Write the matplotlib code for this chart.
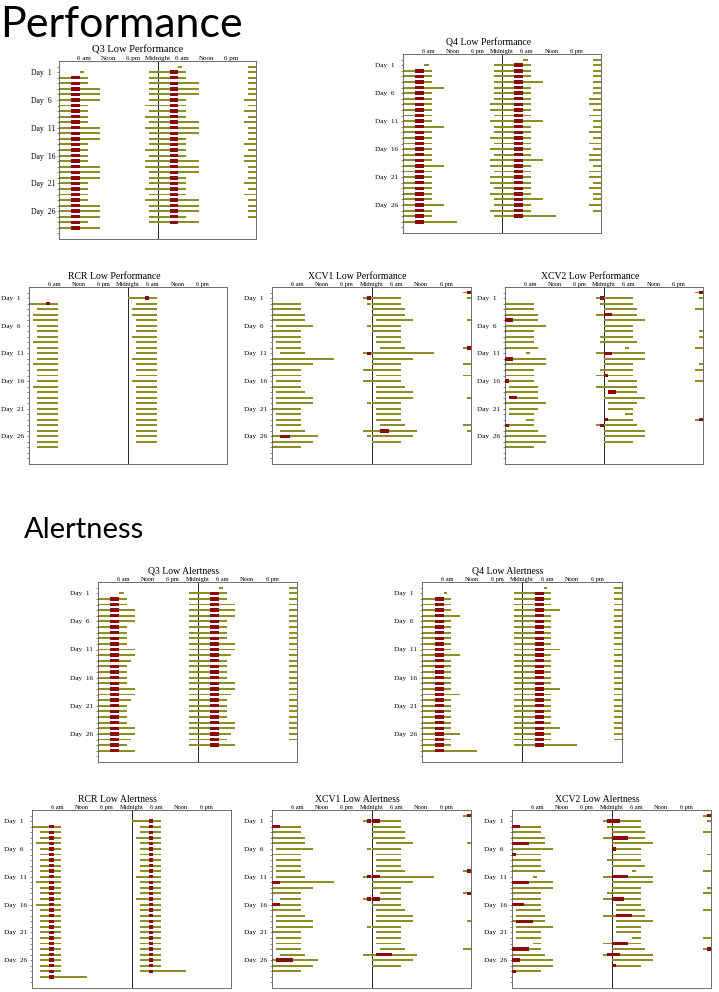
import matplotlib
matplotlib.use('Agg')
import matplotlib.pyplot as plt

OLIVE = '#8e8e26'
MAROON = '#8b0a0a'
W, H = 719, 992

TIME_TICKS = [6, 12, 18, 24, 30, 36, 42]
TIME_LABELS = ['6 am', 'Noon', '6 pm', 'Midnight', '6 am', 'Noon', '6 pm']
DAY_TICKS = [1, 6, 11, 16, 21, 26]
DAY_LABELS = ['Day  1', 'Day  6', 'Day  11', 'Day  16', 'Day  21', 'Day  26']

# sleep onset / wake per day (hours from midnight of the wake day, negative = evening before)
# ---- Q3 performance ----
Q3P_FIRST = 2
Q3P_ON = [-2, -2, -2, -2, -2, -2, -3, -2, -3, -2, -3, -2, -2, -2,
          -3, -2, -3, -3, -2, -2, -2, -3, -2, -3, -2, -2, -2, -2]
Q3P_OFF = [7, 7, 10, 10, 10, 7, 7, 7, 7, 10, 10, 10, 7, 7,
           7, 7, 10, 10, 10, 7, 7, 7, 7, 10, 10, 10, 7, 10]
Q3P_NAP = [(1, 5.0, 6.0)]
Q3P_LOW_DAY = [2, 3, 4, 5, 6, 7, 8, 9, 10, 11, 12, 13, 14, 15,
               16, 17, 18, 19, 20, 21, 22, 23, 24, 25, 26, 27, 28, 29]
Q3P_LOW_ON = [3.0] * 28
Q3P_LOW_OFF = [5.0] * 28

# ---- Q4 performance ----
Q4P_FIRST = 2
Q4P_ON = [-2, -2, -2, -2, -2, -2, -2, -3, -3, -2, -3, -2, -2, -3,
          -2, -3, -2, -3, -3, -2, -3, -3, -2, -3, -2, -2, -3, -2]
Q4P_OFF = [7, 7, 7, 10, 7, 7, 7, 7, 7, 7, 10, 7, 7, 7,
           7, 7, 7, 10, 7, 7, 7, 7, 7, 7, 10, 7, 7, 13]
Q4P_NAP = [(1, 5.2, 6.2)]
Q4P_LOW_DAY = Q3P_LOW_DAY
Q4P_LOW_ON = [3.0] * 28
Q4P_LOW_OFF = [5.1] * 28

# ---- RCR performance ----
RCRP_FIRST = 2
RCRP_ON = [0, 1.9, 0.9, 0.9, 1.9, 1.9, 1.9, 0.9, 1.9, 1.9, 1.9, 0.9, 1.9, 1.9,
           1.9, 0.9, 1.9, 1.9, 1.9, 1.9, 1.9, 1.9, 1.9, 1.9, 1.9, 1.9, 1.9]
RCRP_OFF = [7] * 27
RCRP_LOW_DAY = [2]
RCRP_LOW_ON = [4.0]
RCRP_LOW_OFF = [5.0]

# ---- XCV1 performance ----
X1P_FIRST = 2
X1P_ON = [-2, -1, 0, 0, 1, -1, 0, 1, 1, 2, -2, 0, 0, -2,
          1, -2, 1, 1, 1, -1, 1, 1, 1, 2, -2, -1, 0]
X1P_OFF = [7, 7, 8, 8, 10, 7, 7, 7, 7, 8, 15, 10, 7, 7,
           7, 7, 8, 10, 10, 7, 7, 7, 7, 8, 11, 10, 7]
X1P_LOW_DAY = [2, 12, 26]
X1P_LOW_ON = [-1, -1, 2.0]
X1P_LOW_OFF = [0, 0, 4.3]

# ---- XCV2 performance ----
X2P_FIRST = 2
X2P_ON = [-2, -1, 0, -2, 0, 0, 0, -1, -1, 5, -2, 0, 0, -1,
          -2, 1, -2, 1, 0, 1, 1, 5, 0, -2, 0, 0, 0]
X2P_OFF = [7, 7, 8, 8, 10, 7, 7, 7, 8, 6, 10, 10, 7, 7,
           7, 8, 8, 8, 10, 8, 7, 7, 7, 8, 10, 10, 7]
X2P_LOW_DAY = [2, 5, 12, 16, 19, 24, 25]
X2P_LOW_ON = [-1, 0, 0, 0, 1, 0, -1]
X2P_LOW_OFF = [0, 2, 2, 1, 3, 1, 0]

# ---- Q3 alertness ----
Q3A_FIRST = 2
Q3A_ON = [-2] * 28
Q3A_OFF = [7, 7, 9, 9, 9, 7, 7, 7, 7, 9, 9, 8, 7, 7,
           7, 7, 9, 9, 8, 7, 7, 7, 7, 9, 9, 8, 7, 9]
Q3A_NAP = [(1, 5.1, 6.2)]
Q3A_LOW_DAY = Q3P_LOW_DAY
Q3A_LOW_ON = [3.0] * 28
Q3A_LOW_OFF = [5.1] * 28

# ---- Q4 alertness ----
Q4A_FIRST = 2
Q4A_ON = [-2] * 28
Q4A_OFF = [7, 7, 7, 9, 7, 7, 7, 7, 7, 7, 9, 7, 7, 7,
           7, 7, 7, 9, 7, 7, 7, 7, 7, 7, 9, 7, 7, 13.1]
Q4A_NAP = [(1, 5.2, 6.1)]
Q4A_LOW_DAY = Q3P_LOW_DAY
Q4A_LOW_ON = [3.0] * 28
Q4A_LOW_OFF = [5.2] * 28

# ---- RCR alertness ----
RCRA_FIRST = 2
RCRA_ON = [0, 2, 2, 1, 2, 2, 2, 2, 2, 2, 1, 2, 2, 2,
           1, 2, 2, 2, 2, 2, 2, 2, 2, 2, 2, 2, 2, 2]
RCRA_OFF = [7, 7, 7, 7, 7, 7, 7, 7, 7, 7, 7, 7, 7, 7,
            7, 7, 7, 7, 7, 7, 7, 7, 7, 7, 7, 7, 7, 13.2]
RCRA_LOW_DAY = Q3P_LOW_DAY
RCRA_LOW_ON = [4.2] * 28
RCRA_LOW_OFF = [5.2] * 28

# ---- XCV1 alertness ----
X1A_FIRST = 2
X1A_ON = [-2, 0, 0, 0, 1, -1, 1, 1, 1, 1, -2, 0, 0, 2,
          -2, 0, 1, 1, 1, -1, 1, 1, 1, 2, -2, 0, 0]
X1A_OFF = [7, 7, 8, 8, 10, 7, 7, 7, 7, 8, 15, 10, 7, 7,
           7, 7, 8, 10, 10, 7, 7, 7, 7, 8, 11, 10, 7]
X1A_LOW_DAY = [2, 12, 16, 26]
X1A_LOW_ON = [-1, -1, -1, 1]
X1A_LOW_OFF = [2, 2, 2, 5]

# ---- XCV2 alertness ----
X2A_FIRST = 2
X2A_ON = [-2, -1, 0, -2, 0, 0, 0, -1, 0, 5, -2, 0, 0, -1,
          -2, 1, 1, -2, 1, 1, 1, 5, -2, 0, -2, 0, 0]
X2A_OFF = [7, 7, 8, 8, 10, 7, 7, 7, 8, 6, 10, 10, 7, 7,
           7, 7, 8, 8, 10, 7, 7, 7, 7, 8, 10, 10, 7]
X2A_LOW_DAY = [2, 5, 7, 12, 16, 19, 24, 26, 28]
X2A_LOW_ON = [-1, 0, 0, 0, 0, 1, 0, -1, 0]
X2A_LOW_OFF = [2, 4, 1, 4, 3, 5, 4, 2, 1]


def px_rect(x0, y0, x1, y1):
    return [x0 / W, 1 - y1 / H, (x1 - x0) / W, (y1 - y0) / H]


def draw_block(ax, day, on, off, color, h):
    # split an episode at midnight, then double-plot: day d on row d (left), row d-1 (right)
    parts = [(day - 1, 24 + on, 24), (day, 0, off)] if on < 0 else [(day, on, off)]
    for d, a, b in parts:
        ax.barh([d, d - 1], [b - a, b - a], left=[a, a + 24], height=h,
                color=color, linewidth=0, zorder=3 if color == MAROON else 2)


def panel(fig, rect, title, first, on, off, low_day, low_on, low_off,
          naps=(), title_x=0.43, title_fs=7, tick_fs=4.6):
    ax = fig.add_axes(rect)
    for i, (a, b) in enumerate(zip(on, off)):
        draw_block(ax, first + i, a, b, OLIVE, 0.34)
    for d, a, b in naps:
        draw_block(ax, d, a, b, OLIVE, 0.34)
    for d, a, b in zip(low_day, low_on, low_off):
        draw_block(ax, d, a, b, MAROON, 0.62)

    ax.set_xlim(0, 48)
    ax.set_ylim(31, -1)
    ax.axvline(24, color='#222222', lw=0.7, zorder=1)
    ax.xaxis.tick_top()
    ax.set_xticks(TIME_TICKS)
    ax.set_xticklabels(TIME_LABELS, fontsize=tick_fs, family='Liberation Serif')
    ax.tick_params(axis='x', length=0, pad=0.3)
    ax.set_yticks(DAY_TICKS)
    ax.set_yticklabels(DAY_LABELS, fontsize=tick_fs + 0.6, family='Liberation Serif',
                       ha='left')
    ax.set_yticks(range(0, 31), minor=True)
    ax.tick_params(axis='y', which='both', direction='out', length=1.5, width=0.5,
                   color='#555555')
    ax.tick_params(axis='y', which='major', pad=19)
    for s in ax.spines.values():
        s.set_linewidth(0.6)
        s.set_color('#555555')
    ax.text(title_x, 1.06, title, transform=ax.transAxes, ha='center', va='center',
            fontsize=title_fs, family='Liberation Serif')
    return ax


def build_figure():
    fig = plt.figure(figsize=(W / 100, H / 100), dpi=100)
    fig.patch.set_facecolor('white')

    fig.text(0.0, 1 - 37 / H, 'Performance', fontsize=31, family='Lato',
             va='baseline', ha='left')
    fig.text(24 / W, 1 - 538 / H, 'Alertness', fontsize=21, family='Lato',
             va='baseline', ha='left')

    panel(fig, px_rect(59, 61, 256, 239), 'Q3 Low Performance', Q3P_FIRST, Q3P_ON, Q3P_OFF,
          Q3P_LOW_DAY, Q3P_LOW_ON, Q3P_LOW_OFF, Q3P_NAP, title_x=0.40, title_fs=7.6,
          tick_fs=5.0)
    panel(fig, px_rect(403, 54, 601, 233), 'Q4 Low Performance', Q4P_FIRST, Q4P_ON, Q4P_OFF,
          Q4P_LOW_DAY, Q4P_LOW_ON, Q4P_LOW_OFF, Q4P_NAP)
    panel(fig, px_rect(29, 287, 227, 464), 'RCR Low Performance', RCRP_FIRST, RCRP_ON,
          RCRP_OFF, RCRP_LOW_DAY, RCRP_LOW_ON, RCRP_LOW_OFF)
    panel(fig, px_rect(272, 287, 471, 464), 'XCV1 Low Performance', X1P_FIRST, X1P_ON,
          X1P_OFF, X1P_LOW_DAY, X1P_LOW_ON, X1P_LOW_OFF)
    panel(fig, px_rect(505, 287, 703, 464), 'XCV2 Low Performance', X2P_FIRST, X2P_ON,
          X2P_OFF, X2P_LOW_DAY, X2P_LOW_ON, X2P_LOW_OFF)

    panel(fig, px_rect(98, 582, 297, 762), 'Q3 Low Alertness', Q3A_FIRST, Q3A_ON, Q3A_OFF,
          Q3A_LOW_DAY, Q3A_LOW_ON, Q3A_LOW_OFF, Q3A_NAP)
    panel(fig, px_rect(422, 582, 622, 762), 'Q4 Low Alertness', Q4A_FIRST, Q4A_ON, Q4A_OFF,
          Q4A_LOW_DAY, Q4A_LOW_ON, Q4A_LOW_OFF, Q4A_NAP)
    panel(fig, px_rect(32, 810, 231, 988), 'RCR Low Alertness', RCRA_FIRST, RCRA_ON,
          RCRA_OFF, RCRA_LOW_DAY, RCRA_LOW_ON, RCRA_LOW_OFF)
    panel(fig, px_rect(272, 810, 471, 988), 'XCV1 Low Alertness', X1A_FIRST, X1A_ON,
          X1A_OFF, X1A_LOW_DAY, X1A_LOW_ON, X1A_LOW_OFF)
    panel(fig, px_rect(512, 810, 711, 988), 'XCV2 Low Alertness', X2A_FIRST, X2A_ON,
          X2A_OFF, X2A_LOW_DAY, X2A_LOW_ON, X2A_LOW_OFF)

    fig.savefig('out.png', dpi=100, facecolor='white')
    plt.close(fig)


if __name__ == '__main__':
    build_figure()
